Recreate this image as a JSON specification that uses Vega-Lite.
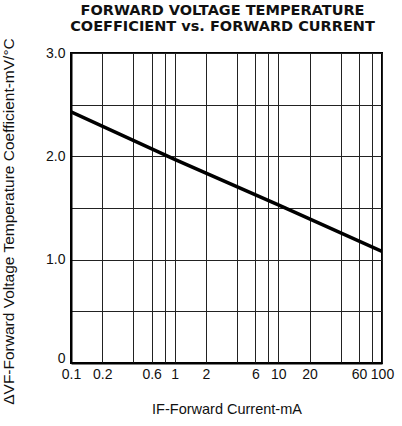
{
  "$schema": "https://vega.github.io/schema/vega-lite/v6.json",
  "autosize": "none",
  "width": 311,
  "height": 310,
  "padding": {"left": 71, "top": 53, "right": 20, "bottom": 63},
  "background": "white",
  "title": {
    "text": ["FORWARD VOLTAGE TEMPERATURE", "COEFFICIENT vs. FORWARD CURRENT"],
    "font": "DejaVu Sans",
    "fontSize": 14.5,
    "fontWeight": "bold",
    "color": "#111",
    "anchor": "middle",
    "frame": "group",
    "lineHeight": 16,
    "offset": 3,
    "dx": -4
  },
  "config": {
    "view": {"stroke": "#000", "strokeWidth": 2},
    "axis": {
      "labelFont": "Liberation Sans",
      "titleFont": "Liberation Sans",
      "labelColor": "#111",
      "titleColor": "#111",
      "titleFontWeight": "normal",
      "gridColor": "#222",
      "gridOpacity": 1,
      "gridWidth": 1,
      "ticks": false,
      "domainColor": "#000",
      "domainWidth": 2
    }
  },
  "data": {
    "values": [
      {"current": 0.1, "coef": 2.43},
      {"current": 1, "coef": 1.97},
      {"current": 10, "coef": 1.53},
      {"current": 100, "coef": 1.08}
    ]
  },
  "mark": {"type": "line", "color": "#000", "strokeWidth": 3.5, "clip": true},
  "encoding": {
    "x": {
      "field": "current",
      "type": "quantitative",
      "scale": {"type": "log", "domain": [0.1, 100], "nice": false},
      "axis": {
        "title": "IF-Forward Current-mA",
        "titleFontSize": 14.5,
        "titlePadding": 21,
        "labelFontSize": 14,
        "labelPadding": 4,
        "labelOverlap": false,
        "labelBound": false,
        "labelFlush": false,
        "values": [0.1, 0.2, 0.4, 0.6, 0.8, 1, 2, 4, 6, 8, 10, 20, 40, 60, 80, 100],
        "labelExpr": "indexof([0.1,0.2,0.6,1,2,6,10,20,60,100], datum.value) >= 0 ? datum.label : ''"
      }
    },
    "y": {
      "field": "coef",
      "type": "quantitative",
      "scale": {"domain": [0, 3], "nice": false},
      "axis": {
        "title": "ΔVF-Forward Voltage Temperature Coefficient-mV/°C",
        "titleFontSize": 15.5,
        "titleX": -55,
        "titleY": 168,
        "titleAlign": "center",
        "titleAngle": -90,
        "labelFontSize": 14,
        "labelPadding": 6,
        "labelOffset": {"condition": {"test": "datum.value == 0", "value": -5}, "value": 0},
        "values": [0, 0.5, 1, 1.5, 2, 2.5, 3],
        "labelExpr": "datum.value == 0 ? '0' : (datum.value % 1 == 0 ? format(datum.value, '.1f') : '')"
      }
    }
  }
}
